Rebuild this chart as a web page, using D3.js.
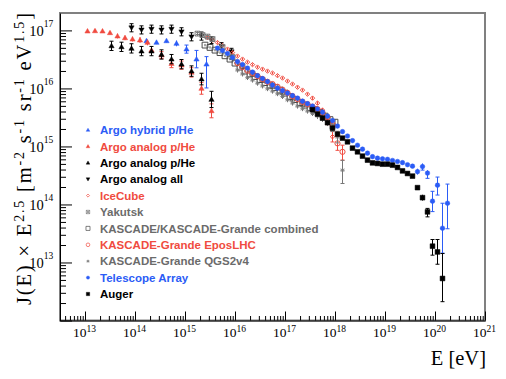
<!DOCTYPE html>
<html>
<head>
<meta charset="utf-8">
<script src="https://cdnjs.cloudflare.com/ajax/libs/d3/7.8.5/d3.min.js"></script>
<style>
  body { margin:0; background:#fff; }
  #canvas { width:506px; height:379px; }
  .legend text { font-family:"Liberation Sans", Arial, sans-serif; font-weight:bold; font-size:11.5px; }
  .axis text, .title { font-family:"Liberation Serif", "Times New Roman", serif; fill:#000; }
</style>
</head>
<body>
<div id="canvas" class="canvas"></div>
<script>
// ---- data (log10 E in eV, J(E)*E^2.5, error bar half-lengths in decades) ----
var xTickExps = [13,14,15,16,17,18,19,20,21];
var yTickExps = [13,14,15,16,17];

var argoHybridLogE = [14.23,14.43,14.63,14.83,15.03,15.23,15.43];
var argoHybridJ = [6.62e16,6.21e16,6.62e16,5.97e16,4.76e16,3.20e16,2.62e16];
var argoHybridErrUp = [0.03,0.03,0.03,0.05,0.07,0.15,0.13];
var argoHybridErrDn = [0.03,0.03,0.03,0.05,0.07,0.15,0.41];

var argoRedLogE = [13.05,13.2,13.35,13.5,13.65,13.8,13.95,14.1,14.25,14.33,14.53,14.73,14.93,15.13,15.33,15.53];
var argoRedJ = [9.72e16,9.84e16,9.72e16,9.10e16,7.98e16,7.45e16,7.08e16,6.81e16,6.21e16,4.57e16,3.75e16,2.68e16,2.52e16,1.89e16,1.00e16,4.11e15];
var argoRedErr = [0.03,0.03,0.03,0.03,0.04,0.04,0.04,0.05,0.05,0.05,0.06,0.07,0.07,0.08,0.1,0.12];

var argoBlackLogE = [13.53,13.73,13.93,14.13,14.33,14.53,14.73,14.93,15.13,15.33,15.53];
var argoBlackJ = [5.42e16,5.21e16,4.90e16,4.40e16,4.40e16,3.85e16,3.20e16,2.62e16,1.99e16,1.45e16,6.46e15];
var argoBlackErr = [0.08,0.08,0.08,0.08,0.08,0.08,0.08,0.08,0.09,0.1,0.14];

var argoAllLogE = [13.93,14.13,14.33,14.53,14.73,14.93,15.13,15.33,15.53,15.73,15.93];
var argoAllJ = [1.11e17,1.02e17,1.05e17,1.02e17,1.05e17,9.46e16,7.76e16,7.98e16,6.81e16,5.36e16,4.28e16];
var argoAllErr = [0.07,0.07,0.07,0.07,0.07,0.07,0.07,0.07,0.06,0.06,0.06];

var iceCubeLogE = [15.45,15.55,15.65,15.75,15.85,15.95,16.05,16.15,16.25,16.35,16.45,16.55,16.65,
                   16.75,16.85,16.95,17.05,17.15,17.25,17.35,17.45,17.55,17.65,17.75,17.85,17.95];
var iceCubeJ = [7.52e16,6.81e16,6.17e16,5.47e16,4.76e16,4.14e16,3.61e16,3.20e16,2.84e16,2.57e16,2.33e16,2.15e16,1.99e16,
                1.84e16,1.66e16,1.51e16,1.34e16,1.19e16,1.05e16,9.35e15,7.98e15,6.81e15,5.58e15,4.23e15,2.73e15,1.47e15];
var iceCubeErr = [0.02,0.02,0.02,0.02,0.02,0.02,0.02,0.02,0.02,0.02,0.02,0.02,0.02,
                  0.02,0.02,0.02,0.02,0.02,0.02,0.02,0.02,0.03,0.03,0.04,0.06,0.09];

var yakutskLogE = [15.25,15.35,15.45,15.55,15.75,15.95,16.15,16.35,16.55,16.75,16.95,17.15,17.35,17.55,17.75,17.95];
var yakutskJ = [8.81e16,8.30e16,7.82e16,7.08e16,5.15e16,3.47e16,2.42e16,1.77e16,1.39e16,1.10e16,8.63e15,6.67e15,5.36e15,4.40e15,3.47e15,2.24e15];
var yakutskErr = [0.04,0.04,0.04,0.04,0.04,0.04,0.04,0.04,0.04,0.04,0.05,0.05,0.05,0.06,0.07,0.08];

var kascadeLogE = [15.4,15.5,15.6,15.7,15.8,15.9,16.0,16.1,16.2,16.3,16.4,16.5,16.6,16.7,
                   16.8,16.9,17.0,17.1,17.2,17.3,17.4,17.5,17.6,17.7,17.8,17.9,18.0];
var kascadeJ = [5.58e16,5.09e16,4.57e16,4.14e16,3.65e16,3.20e16,2.73e16,2.33e16,1.99e16,1.77e16,1.60e16,1.42e16,1.26e16,1.14e16,
                1.03e16,9.35e15,8.30e15,7.23e15,6.41e15,5.69e15,5.15e15,4.67e15,4.31e15,3.83e15,3.33e15,2.90e15,2.62e15];
var kascadeErr = [0.02,0.02,0.02,0.02,0.02,0.02,0.02,0.02,0.02,0.02,0.02,0.02,0.02,0.02,
                  0.02,0.02,0.02,0.02,0.02,0.03,0.03,0.03,0.03,0.04,0.04,0.05,0.05];

var kgLogE = [16.05,16.15,16.25,16.35,16.45,16.55,16.65,16.75,16.85,16.95,17.05,
              17.15,17.25,17.35,17.45,17.55,17.65,17.75,17.85,17.95,18.05,18.15];
var eposJ = [2.73e16,2.33e16,2.03e16,1.84e16,1.63e16,1.45e16,1.30e16,1.19e16,1.07e16,9.53e15,8.40e15,
             7.36e15,6.55e15,5.87e15,5.36e15,4.85e15,4.40e15,3.83e15,3.20e15,2.42e15,1.13e15,8.07e14];
var eposErrUp = [0.02,0.02,0.02,0.02,0.02,0.02,0.02,0.02,0.02,0.02,0.02,
                 0.02,0.02,0.03,0.03,0.03,0.03,0.03,0.04,0.05,0.12,0.115];
var eposErrDn = [0.02,0.02,0.02,0.02,0.02,0.02,0.02,0.02,0.02,0.02,0.02,
                 0.02,0.02,0.03,0.03,0.03,0.03,0.03,0.04,0.05,0.12,0.143];
var qgsJ = [2.07e16,1.77e16,1.53e16,1.39e16,1.23e16,1.10e16,9.84e15,8.97e15,8.07e15,7.23e15,6.35e15,
            5.58e15,4.95e15,4.45e15,4.06e15,3.68e15,3.33e15,2.96e15,2.52e15,2.07e15,1.45e15,3.90e14];
var qgsErrUp = [0.04,0.04,0.04,0.04,0.04,0.04,0.04,0.04,0.04,0.04,0.04,
                0.04,0.04,0.04,0.04,0.04,0.05,0.05,0.05,0.06,0.1,0.17];
var qgsErrDn = [0.04,0.04,0.04,0.04,0.04,0.04,0.04,0.04,0.04,0.04,0.04,
                0.04,0.04,0.04,0.04,0.04,0.05,0.05,0.05,0.06,0.1,0.23];

var taLogE = [15.65,15.75,15.85,15.95,16.05,16.15,16.25,16.35,16.45,16.55,
              16.65,16.75,16.85,16.95,17.05,17.15,17.25,17.35,17.45,17.55,
              17.65,17.75,17.85,17.95,18.05,18.15,18.25,18.35,18.45,18.55,
              18.65,18.75,18.85,18.95,19.05,19.15,19.25,19.35,19.45,19.55,
              19.65,19.75,19.85,19.95,20.05,20.15,20.25];
var taJ = [4.95e16,4.49e16,4.01e16,3.40e16,2.90e16,2.57e16,2.24e16,1.91e16,1.66e16,1.48e16,
           1.31e16,1.14e16,1.01e16,9.16e15,8.30e15,7.52e15,6.81e15,6.04e15,5.47e15,4.95e15,
           4.40e15,3.90e15,3.33e15,2.79e15,2.24e15,1.80e15,1.51e15,1.26e15,1.05e15,8.98e14,
           7.66e14,6.67e14,6.28e14,6.11e14,6.00e14,5.74e14,5.51e14,5.26e14,4.85e14,4.57e14,
           3.68e14,4.49e14,3.47e14,1.14e14,2.15e14,3.90e13,1.05e14];
var taErrUp = [0.02,0.02,0.02,0.02,0.02,0.02,0.02,0.02,0.02,0.02,
               0.02,0.02,0.02,0.02,0.02,0.02,0.02,0.02,0.02,0.02,
               0.02,0.02,0.02,0.02,0.02,0.02,0.02,0.02,0.02,0.02,
               0.02,0.02,0.02,0.02,0.02,0.02,0.02,0.02,0.02,0.03,
               0.05,0.055,0.05,0.17,0.14,0.43,0.33];
var taErrDn = [0.02,0.02,0.02,0.02,0.02,0.02,0.02,0.02,0.02,0.02,
               0.02,0.02,0.02,0.02,0.02,0.02,0.02,0.02,0.02,0.02,
               0.02,0.02,0.02,0.02,0.02,0.02,0.02,0.02,0.02,0.02,
               0.02,0.02,0.02,0.02,0.02,0.02,0.02,0.02,0.02,0.03,
               0.05,0.06,0.09,0.18,0.17,0.43,0.44];

var augerLogE = [17.55,17.65,17.75,17.85,17.95,18.05,18.15,18.25,18.35,18.45,
                 18.55,18.65,18.75,18.85,18.95,19.05,19.15,19.25,19.35,19.45,
                 19.55,19.65,19.75,19.85,19.95,20.05,20.15];
var augerJ = [4.31e15,3.61e15,3.08e15,2.57e15,2.07e15,1.63e15,1.39e15,1.20e15,9.35e14,8.07e14,
              6.81e14,5.81e14,5.21e14,5.09e14,4.95e14,4.95e14,4.76e14,4.35e14,3.79e14,3.42e14,
              3.08e14,1.95e14,1.31e14,7.45e13,1.91e13,1.52e13,5.30e12];
var augerErrUp = [0.02,0.02,0.02,0.02,0.02,0.02,0.02,0.02,0.02,0.02,
                  0.02,0.02,0.02,0.02,0.02,0.02,0.02,0.02,0.02,0.02,
                  0.02,0.03,0.05,0.06,0.115,0.214,0.43];
var augerErrDn = [0.02,0.02,0.02,0.02,0.02,0.02,0.02,0.02,0.02,0.02,
                  0.02,0.02,0.02,0.02,0.02,0.02,0.02,0.02,0.02,0.02,
                  0.02,0.03,0.05,0.086,0.155,0.212,0.40];

// ---- styles ----
var blue = '#2b5cf6', red = '#f04b40', gray = '#6b6b6b';

var series = [
  {label:'Argo hybrid p/He', color:blue, shape:'triUp', s:2.4, logE:argoHybridLogE, J:argoHybridJ, up:argoHybridErrUp, dn:argoHybridErrDn},
  {label:'Argo analog p/He', color:red, shape:'triUp', s:2.4, logE:argoRedLogE, J:argoRedJ, up:argoRedErr, dn:argoRedErr},
  {label:'Argo analog p/He', color:'#000', shape:'triUp', s:2.4, logE:argoBlackLogE, J:argoBlackJ, up:argoBlackErr, dn:argoBlackErr},
  {label:'Argo analog all', color:'#000', shape:'triDown', s:2.4, logE:argoAllLogE, J:argoAllJ, up:argoAllErr, dn:argoAllErr},
  {label:'IceCube', color:red, shape:'diamond', open:true, s:2.2, logE:iceCubeLogE, J:iceCubeJ, up:iceCubeErr, dn:iceCubeErr},
  {label:'Yakutsk', color:'#777', text:gray, shape:'boxX', open:true, s:2.4, logE:yakutskLogE, J:yakutskJ, up:yakutskErr, dn:yakutskErr},
  {label:'KASCADE/KASCADE-Grande combined', color:'#4a4a4a', text:gray, shape:'square', open:true, s:2.9, logE:kascadeLogE, J:kascadeJ, up:kascadeErr, dn:kascadeErr},
  {label:'KASCADE-Grande EposLHC', color:red, shape:'circle', open:true, s:2.6, logE:kgLogE, J:eposJ, up:eposErrUp, dn:eposErrDn},
  {label:'KASCADE-Grande QGS2v4', color:'#777', text:gray, shape:'asterisk', open:true, s:2.2, logE:kgLogE, J:qgsJ, up:qgsErrUp, dn:qgsErrDn},
  {label:'Telescope Array', color:blue, shape:'circle', s:2.3, logE:taLogE, J:taJ, up:taErrUp, dn:taErrDn},
  {label:'Auger', color:'#000', shape:'square', s:2.4, logE:augerLogE, J:augerJ, up:augerErrUp, dn:augerErrDn}
];

function shapePath(type, s){
  switch(type){
    case 'triUp': return 'M0,'+(-s*1.1)+'L'+s*1.1+','+s*0.8+'L'+(-s*1.1)+','+s*0.8+'Z';
    case 'triDown': return 'M0,'+(s*1.1)+'L'+s*1.1+','+(-s*0.8)+'L'+(-s*1.1)+','+(-s*0.8)+'Z';
    case 'square': return 'M'+(-s)+','+(-s)+'H'+s+'V'+s+'H'+(-s)+'Z';
    case 'circle': return 'M'+s+',0A'+s+','+s+' 0 1,1 '+(-s)+',0A'+s+','+s+' 0 1,1 '+s+',0Z';
    case 'diamond': return 'M0,'+(-s)+'L'+s+',0L0,'+s+'L'+(-s)+',0Z';
    case 'asterisk': var a = s*0.7;
      return 'M'+(-s)+',0H'+s+'M0,'+(-s)+'V'+s+'M'+(-a)+','+(-a)+'L'+a+','+a+'M'+a+','+(-a)+'L'+(-a)+','+a;
    case 'boxX': return 'M'+(-s)+','+(-s)+'H'+s+'V'+s+'H'+(-s)+'Z'+'M'+(-s)+','+(-s)+'L'+s+','+s+'M'+s+','+(-s)+'L'+(-s)+','+s;
  }
}

// ---- layout ----
var W = 506, H = 379;
var m = {t:13, r:21, b:58.5, l:60};
var w = W - m.l - m.r, h = H - m.t - m.b;

var svg = d3.select('.canvas').append('svg').attr('width', W).attr('height', H);
var plot = svg.append('g').attr('transform', 'translate(' + m.l + ',' + m.t + ')');

var scaleX = d3.scaleLog().domain([Math.pow(10, 12.5), 1e21]).range([0, w]);
var scaleY = d3.scaleLog().domain([1e12, Math.pow(10, 17.3)]).range([h, 0]);

// frame
plot.append('rect').attr('x', 0).attr('y', 0).attr('width', w).attr('height', h)
  .attr('fill', 'none').attr('stroke', '#808080').attr('stroke-width', 2);

// minor ticks
var xMinor = [], yMinor = [];
for (var p = 12; p <= 20; p++) for (var k = 2; k <= 9; k++) {
  var v = k * Math.pow(10, p);
  if (v > scaleX.domain()[0] && v < scaleX.domain()[1]) xMinor.push(v);
  if (v > scaleY.domain()[0] && v < scaleY.domain()[1]) yMinor.push(v);
}

plot.append('g').attr('transform', 'translate(0,' + h + ')')
  .call(d3.axisBottom(scaleX).tickValues(xMinor).tickSize(-4.5).tickFormat(''))
  .call(function(g){ g.select('.domain').remove(); });
plot.append('g')
  .call(d3.axisLeft(scaleY).tickValues(yMinor).tickSize(-6).tickFormat(''))
  .call(function(g){ g.select('.domain').remove(); });

// major ticks + labels
var gx = plot.append('g').attr('class', 'axis').attr('transform', 'translate(0,' + h + ')')
  .call(d3.axisBottom(scaleX).tickValues(xTickExps.map(function(e){ return Math.pow(10, e); }))
    .tickSizeInner(-9).tickSizeOuter(0));
gx.selectAll('.tick text').each(function(d){
  var t = d3.select(this).text(null).attr('y', 16).attr('dy', null).attr('font-size', 13.5).attr('dx', -1);
  t.append('tspan').text('10');
  t.append('tspan').attr('dy', -5).attr('font-size', 9.5).text(Math.round(Math.log10(d)));
});

var gy = plot.append('g').attr('class', 'axis')
  .call(d3.axisLeft(scaleY).tickValues([1e12].concat(yTickExps.map(function(e){ return Math.pow(10, e); })))
    .tickSizeInner(-12).tickSizeOuter(0).tickPadding(6.7));
gy.selectAll('.tick text').each(function(d){
  var t = d3.select(this).text(null).attr('dy', 4.7).attr('font-size', 14.5);
  if (d < 1e13) return;
  t.append('tspan').text('10');
  t.append('tspan').attr('dy', -8.3).attr('font-size', 9.5).text(Math.round(Math.log10(d)));
});
plot.selectAll('.axis .domain').attr('stroke', '#000');

// data
series.forEach(function(sr){
  var pts = sr.logE.map(function(e, i){
    return {E: Math.pow(10, e), J: sr.J[i], up: sr.up[i], dn: sr.dn[i]};
  });
  var node = plot.append('g').selectAll('g').data(pts).enter().append('g')
    .attr('transform', function(d){ return 'translate(' + scaleX(d.E) + ',' + scaleY(d.J) + ')'; });

  node.append('path')
    .attr('d', function(d){
      var y0 = scaleY(d.J),
          y1 = scaleY(d.J * Math.pow(10, d.up)) - y0,
          y2 = scaleY(d.J / Math.pow(10, d.dn)) - y0;
      var path = 'M0,' + y1 + 'V' + y2;
      if (-y1 > sr.s + 1) path += 'M-2,' + y1 + 'H2';
      if (y2 > sr.s + 1) path += 'M-2,' + y2 + 'H2';
      return path;
    })
    .attr('fill', 'none').attr('stroke', sr.color).attr('stroke-width', 1);

  node.append('path')
    .attr('d', shapePath(sr.shape, sr.s))
    .attr('fill', sr.open ? '#fff' : sr.color)
    .attr('fill-opacity', sr.open ? 0 : 1)
    .attr('stroke', sr.color)
    .attr('stroke-width', sr.open ? 1 : 0.5);
});

// legend
var legend = svg.append('g').attr('class', 'legend');
series.forEach(function(sr, i){
  var y = 130 + i * 16.4;
  legend.append('path').attr('transform', 'translate(88,' + y + ')')
    .attr('d', shapePath(sr.shape, sr.s * 0.7))
    .attr('fill', sr.open ? 'none' : sr.color)
    .attr('stroke', sr.color).attr('stroke-width', sr.open ? 0.7 : 0.4);
  legend.append('text').attr('x', 100).attr('y', y + 4.2)
    .attr('fill', sr.text || sr.color).text(sr.label);
});

// axis titles
svg.append('text').attr('class', 'title').attr('x', 486).attr('y', 365)
  .attr('text-anchor', 'end').attr('font-size', 20.5).text('E [eV]');

var yt = svg.append('text').attr('class', 'title')
  .attr('transform', 'translate(31,13) rotate(-90)')
  .attr('text-anchor', 'end').attr('font-size', 20.5);
var parts = [['J(E) \u00d7 E', 0], ['2.5', 1], [' [m', 0], ['-2', 1], [' s', 0], ['-1', 1],
             [' sr', 0], ['-1', 1], [' eV', 0], ['1.5', 1], [']', 0]];
var raised = false;
parts.forEach(function(pp){
  var ts = yt.append('tspan').text(pp[0]);
  if (pp[1] && !raised) { ts.attr('dy', -7).attr('font-size', 14); raised = true; }
  else if (!pp[1] && raised) { ts.attr('dy', 7); raised = false; }
  else if (pp[1]) ts.attr('font-size', 14);
});
yt.attr('textLength', 292).attr('lengthAdjust', 'spacing');
</script>
</body>
</html>
